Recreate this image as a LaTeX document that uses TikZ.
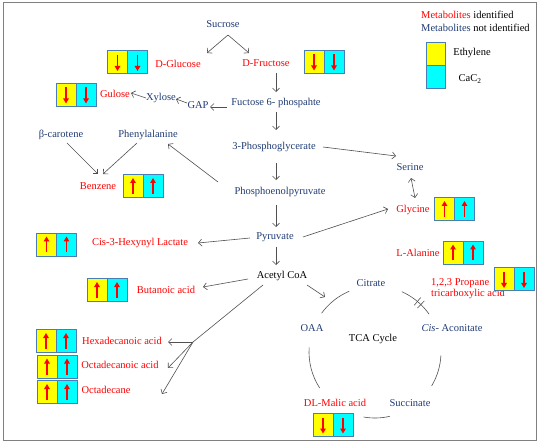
\documentclass[tikz,border=0pt]{standalone}
\usepackage{fontspec}
\setmainfont{Liberation Serif}
\usetikzlibrary{arrows.meta,calc}
\definecolor{navy}{HTML}{1F3B73}
\definecolor{mred}{HTML}{FF0000}
\definecolor{boxblue}{HTML}{4A7DB5}
\definecolor{lgray}{HTML}{505050}
\definecolor{cellyellow}{HTML}{FFFF00}
\definecolor{cellcyan}{HTML}{00FFFF}
\begin{document}
\begin{tikzpicture}[x=1pt,y=-1pt,
  every node/.style={font=\fontsize{10.5pt}{11.5pt}\selectfont, inner sep=1pt},
  idn/.style={text=mred},
  nid/.style={text=navy},
  blk/.style={text=black},
  arr/.style={draw=lgray, line width=0.6pt, -{Straight Barb[length=3.5pt,width=7pt]}},
  arrb/.style={draw=lgray, line width=0.6pt, {Straight Barb[length=3.5pt,width=7pt]}-{Straight Barb[length=3.5pt,width=7pt]}},
  plain/.style={draw=lgray, line width=0.6pt},
  arcline/.style={draw=lgray, line width=0.6pt},
  ycell/.style={draw=boxblue, line width=0.9pt, fill=cellyellow, minimum width=20pt, minimum height=23pt, inner sep=0pt},
  ccell/.style={draw=boxblue, line width=0.9pt, fill=cellcyan, minimum width=20pt, minimum height=23pt, inner sep=0pt},
  redarr/.style={draw=mred, line width=1.3pt, -{Triangle[length=5pt,width=5.5pt]}},
  pics/uppair/.style={code={
    \node[ycell] (-y) at (-10,0) {};
    \node[ccell] (-c) at (10,0) {};
    \draw[redarr] (-10,8) -- (-10,-8);
    \draw[redarr] (10,8) -- (10,-8);
  }},
  pics/downpair/.style={code={
    \node[ycell] (-y) at (-10,0) {};
    \node[ccell] (-c) at (10,0) {};
    \draw[redarr] (-10,-7) -- (-10,9);
    \draw[redarr] (10,-7) -- (10,9);
  }}
]
\useasboundingbox (0,0) rectangle (540,443);
\draw[draw=gray, line width=1pt] (3,3) rectangle (536,440);

% nodes
\node[nid] (sucrose) at (223,24) {Sucrose};
\node[idn] (dglucose) at (178,64) {D-Glucose};
\node[idn] (dfructose) at (266,63) {D-Fructose};
\node[idn] (gulose) at (115,94) {Gulose};
\node[nid] (xylose) at (161,98) {Xylose};
\node[nid] (gap) at (198,105) {GAP};
\node[nid] (f6p) at (276,103) {Fuctose 6- phospahte};
\node[nid] (pg3) at (274,147) {3-Phosphoglycerate};
\node[nid] (pep) at (280,192) {Phosphoenolpyruvate};
\node[nid] (pyr) at (275,237) {Pyruvate};
\node[blk] (acoa) at (282,276) {Acetyl CoA};
\node[nid] (bcar) at (61,135) {β-carotene};
\node[nid] (phe) at (148,135) {Phenylalanine};
\node[idn] (benz) at (98,186) {Benzene};
\node[nid] (serine) at (410,167) {Serine};
\node[idn] (glycine) at (413,210) {Glycine};
\node[idn] (lala) at (418,253) {L-Alanine};
\node[idn] (cis3) at (140,243) {Cis-3-Hexynyl Lactate};
\node[idn] (but) at (166,290) {Butanoic acid};
\node[idn, align=left, anchor=west] (prop) at (430,288.5) {1,2,3 Propane\\tricarboxylic acid};
\node[nid] (citrate) at (371,283) {Citrate};
\node[nid] (oaa) at (312,328) {OAA};
\node[nid] (cisacon) at (452,328) {\textit{Cis}- Aconitate};
\node[blk] (tca) at (373,339) {TCA Cycle};
\node[idn] (malic) at (335,403) {DL-Malic acid};
\node[nid] (succ) at (410,403) {Succinate};
\node[idn] (hexa) at (122,341) {Hexadecanoic acid};
\node[idn] (octacid) at (120,365) {Octadecanoic acid};
\node[idn] (octane) at (106,390) {Octadecane};

% legend
\node[anchor=west] (leg1) at (420,15) {\textcolor{mred}{Metabolites} identified};
\node[anchor=west] (leg2) at (420,28) {\textcolor{navy}{Metabolites} not identified};
\node[ycell, minimum width=19pt] (legy) at (435.5,53.5) {};
\node[ccell, minimum width=19pt] (legc) at (435.5,76.5) {};
\node (legeth) at (472,53) {Ethylene};
\node (legcac) at (470,79) {CaC\textsubscript{2}};

% box pairs
\pic (pglc) at (127.5,62) {downpair};
\pic (pfru) at (324,61.5) {downpair};
\pic (pgul) at (76,94.5) {downpair};
\pic (pbenz) at (143,186) {uppair};
\pic (pcis) at (56.5,244.5) {uppair};
\pic (pbut) at (107,290) {uppair};
\pic (pgly) at (454.5,209) {uppair};
\pic (pala) at (463,252.5) {uppair};
\pic (pprop) at (514,279) {downpair};
\pic (phexa) at (56,341) {uppair};
\pic (pocta) at (57,366.5) {uppair};
\pic (pocte) at (57,392) {uppair};
\pic (pmal) at (333,424.5) {downpair};

% connectors
\draw[arr] ($(sucrose)+(5,11)$) -- ($(dglucose)+(29,-11)$);
\draw[arr] ($(sucrose)+(5,11)$) -- ($(dfructose)+(-17,-10)$);
\draw[arr] ($(dfructose)+(10,10)$) -- ($(f6p)+(0,-11)$);
\draw[arr] ($(f6p)+(0,9)$) -- ($(pg3)+(2,-17)$);
\draw[arr] ($(pg3)+(2,16)$) -- ($(pep)+(-4,-12)$);
\draw[arr] ($(pep)+(-4,13)$) -- ($(pyr)+(1,-10)$);
\draw[arr] ($(pyr)+(1,10)$) -- ($(acoa)+(-6,-11)$);
\draw[arr] ($(f6p)+(-49,4)$) -- ($(gap)+(12,2)$);
\draw[arr] ($(gap)+(-11,-2)$) -- ($(xylose)+(15,1)$);
\draw[arr] ($(xylose)+(-15,0)$) -- ($(gulose)+(16,-1)$);
\draw[arr] ($(bcar)+(6,8)$) -- ($(benz)+(0,-12)$);
\draw[arr] ($(phe)+(-11,8)$) -- ($(benz)+(5,-12)$);
\draw[arr] ($(pep)+(-62,-10)$) -- ($(phe)+(20,9)$);
\draw[arr] ($(pg3)+(49,0)$) -- ($(serine)+(-14,-11)$);
\draw[arrb] ($(serine)+(1,11)$) -- ($(glycine)+(2,-12)$);
\draw[arr] ($(pyr)+(28,0)$) -- ($(glycine)+(-25,-1)$);
\draw[arr] ($(pyr)+(-25,1)$) -- ($(cis3)+(58,0)$);
\draw[arr] ($(acoa)+(-34,3)$) -- ($(but)+(37,-3)$);
\draw[arr] ($(acoa)+(25,9)$) -- ($(citrate)+(-46,14)$);
\coordinate (fork) at (193,342);
\draw[plain] ($(acoa)+(-19,9)$) -- (fork);
\draw[arr] (fork) -- ($(hexa)+(46,1)$);
\draw[arr] (fork) -- ($(octacid)+(48,3)$);
\draw[arr] (fork) -- ($(octane)+(56,4)$);

% TCA cycle arcs
\coordinate (tcac) at (375,352);
\draw[arcline] ($(tcac)+(-113:66)$) arc[start angle=-113, end angle=-144, radius=66];
\draw[arcline] ($(tcac)+(-35:66)$) arc[start angle=-35, end angle=-66, radius=66];
\draw[arcline] ($(tcac)+(-176:66)$) arc[start angle=-176, end angle=-213, radius=66];
\draw[arcline] ($(tcac)+(31:66)$) arc[start angle=31, end angle=3, radius=66];
\draw[arcline] ($(tcac)+(-260:66)$) arc[start angle=-260, end angle=-283, radius=66];
\draw[plain] ($(tcac)+(-46:61)$) -- ($(tcac)+(-46:71)$);
\draw[plain] ($(tcac)+(-50:61)$) -- ($(tcac)+(-50:71)$);
\end{tikzpicture}
\end{document}
